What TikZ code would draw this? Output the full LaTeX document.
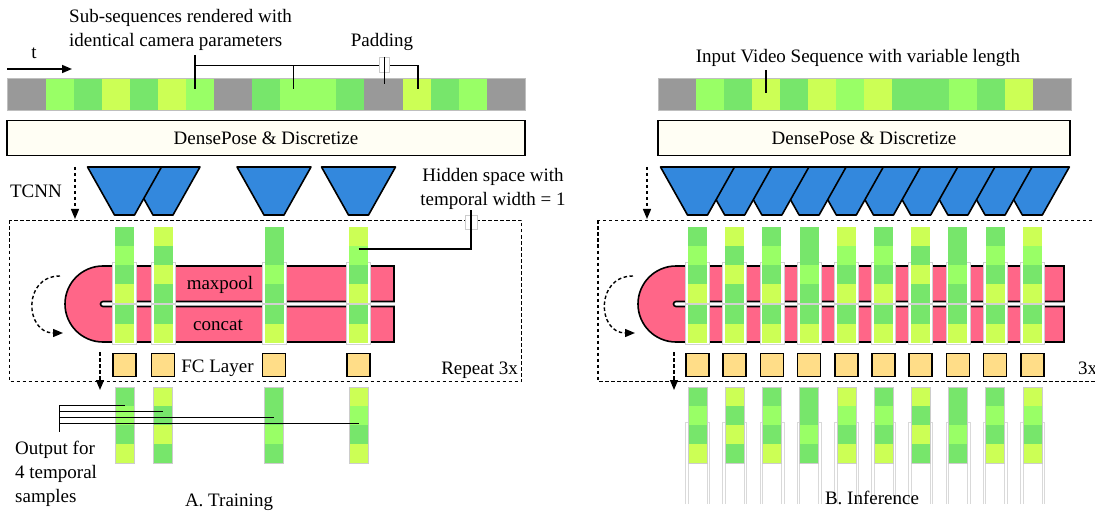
\documentclass[tikz,border=0pt]{standalone}
\usepackage{fontspec}
\setmainfont{Liberation Serif}
\usepackage{xcolor}
\usetikzlibrary{positioning,arrows.meta}

\definecolor{padgray}{HTML}{999999}
\definecolor{cl}{HTML}{99FF66}
\definecolor{cg}{HTML}{77E66B}
\definecolor{cy}{HTML}{CCFF55}
\definecolor{tcnnblue}{HTML}{3388DD}
\definecolor{poolpink}{HTML}{FF6688}
\definecolor{fcyellow}{HTML}{FFDD88}
\definecolor{dpcream}{HTML}{FFFEF4}

% U-shaped maxpool/concat block: #1 centre of the round end, #2 right end
\newcommand{\poolshape}[2]{%
  \draw[poolbar] (#2,266) -- (#1,266) arc[start angle=270, end angle=90, radius=38]
    -- (#2,342) -- (#2,306.5) -- (#1,306.5) arc[start angle=90, end angle=270, radius=2.5]
    -- (#2,301.5) -- cycle;}

% hidden feature column: #1 name, #2 centre x, #3 colours of the upper four cells
\newcommand{\hiddencol}[3]{%
  \node[halo, minimum width=24pt, minimum height=41pt] (#1-up) at (#2,283) {};
  \node[halo, minimum width=24pt, minimum height=40pt] (#1-lo) at (#2,324.5) {};
  \foreach \c [count=\i] in #3 \node[cell=\c] (#1-\i) at (#2,217.5+19*\i) {};
  \node[cell=cg] (#1-5) at (#2,314.5) {};
  \node[cell=cy] (#1-6) at (#2,333.5) {};}

% output column below the repeat block
\newcommand{\outcol}[3]{%
  \foreach \c [count=\i] in #3 \node[cell=\c] (#1-\i) at (#2,377.5+19*\i) {};
  \draw[black!20, line width=0.5pt] (#1-1.north west) rectangle (#1-4.south east);}

\begin{document}
\begin{tikzpicture}[x=1pt, y=-1pt,
    every node/.append style={inner sep=0pt, font=\fontsize{19}{24}\selectfont},
    cell/.style={fill=#1, minimum width=19pt, minimum height=19pt, outer sep=0pt},
    dpbox/.style={draw, line width=1.6pt, fill=dpcream, minimum height=35pt},
    fcbox/.style={draw, line width=1.6pt, fill=fcyellow, minimum size=23pt},
    tcnnunit/.style={draw, line width=1.6pt, fill=tcnnblue, line join=round},
    poolbar/.style={draw, line width=1.6pt, fill=poolpink},
    loopbox/.style={draw, line width=1.4pt, dash pattern=on 3.5pt off 2.5pt},
    flow/.style={line width=1.4pt, dash pattern=on 3.5pt off 2.5pt, -{Triangle[length=10pt,width=8pt]}},
    leader/.style={line width=1.6pt},
    jump/.style={fill=white, draw=black!20, line width=0.6pt},
    halo/.style={fill=white, draw=black!18, line width=0.6pt}]

\clip (0,0) rectangle (1095,513);

% ---- A. training: input sequence
\foreach \xa/\xb/\c in {7/46/padgray, 46/74/cl, 74/102/cg, 102/130/cy, 130/158/cg, 158/186/cy,
    186/214/cl, 214/252/padgray, 252/280/cg, 280/308/cl, 308/336/cl, 336/364/cg,
    364/403/padgray, 403/431/cy, 431/459/cg, 459/487/cl, 487/525/padgray}
  \fill[\c] (\xa,78) rectangle (\xb,110);
\draw[black!25, line width=0.6pt] (7,78) rectangle (525,110);

\node[anchor=base] (tlab) at (34,59) {t};
\coordinate (t0) at (7,69);
\coordinate (t1) at (72,69);
\draw[line width=1.6pt, -{Triangle[length=10pt,width=8pt]}] (t0) -- (t1);

\node[anchor=west, align=left] (sublab) at (69,30) {Sub-sequences rendered with\\identical camera parameters};
\node[anchor=base] (padlab) at (382,47) {Padding};
\coordinate (subA) at (195,55);
\coordinate (subB) at (195,89);
\coordinate (subC) at (293.5,89);
\coordinate (subD) at (418,89);
\coordinate (subbar) at (195,65.5);
\draw[leader] (subA) -- (subB);
\draw[leader] (subbar) -| (subD);
\draw[leader] (subbar -| subC) -- (subC);
\node[jump, minimum width=10pt, minimum height=15pt] (padgap) at (384,64.5) {};
\coordinate (padA) at (384.5,57);
\coordinate (padB) at (384.5,84);
\draw[leader] (padA) -- (padB);

% ---- B. inference: input sequence
\foreach \xa/\xb/\c in {658/696/padgray, 696/724/cl, 724/752/cg, 752/780/cy, 780/808/cg,
    808/836/cy, 836/864/cl, 864/892/cy, 892/949/cg, 949/977/cl, 977/1005/cg,
    1005/1033/cy, 1033/1071/padgray}
  \fill[\c] (\xa,78) rectangle (\xb,110);
\draw[black!25, line width=0.6pt] (658,78) rectangle (1071,110);
\node[anchor=base] (vidlab) at (858,63) {Input Video Sequence with variable length};
\coordinate (vidA) at (766,70);
\coordinate (vidB) at (766,93);
\draw[leader] (vidA) -- (vidB);

% ---- DensePose
\node[dpbox, minimum width=518pt] (dpL) at (266,138) {DensePose \& Discretize};
\node[dpbox, minimum width=412pt] (dpR) at (864,138) {DensePose \& Discretize};

% ---- repeat blocks
\draw[loopbox] (9.5,220.5) rectangle (521.5,381.5);
\draw[loopbox] (598,220.5) rectangle (1110,381.5);
\node[anchor=base east] (repL) at (518,374) {Repeat 3x};
\node[anchor=base west] (repR) at (1078,374) {3x};

% ---- TCNN units (right to left, so the left one lies on top)
\foreach \cx in {358.5,274,163,124.5}
  \draw[tcnnunit] (\cx-37,167) -- (\cx+37,167) -- (\cx+10,215) -- (\cx-10,215) -- cycle;
\foreach \k in {10,9,...,1}{
  \pgfmathsetmacro{\cx}{660.3+37.2*\k}
  \draw[tcnnunit] (\cx-37,167) -- (\cx+37,167) -- (\cx+10,215) -- (\cx-10,215) -- cycle;
}
\node[anchor=base] (tcnnlab) at (36,198) {TCNN};
\coordinate (inL0) at (75,167);
\coordinate (inL1) at (75,219);
\draw[flow] (inL0) -- (inL1);
\coordinate (inR0) at (647,167);
\coordinate (inR1) at (647,219);
\draw[flow] (inR0) -- (inR1);

% ---- maxpool / concat
\poolshape{103}{394}
\poolshape{676}{1064}
\node[anchor=base] (mpL) at (220,289) {maxpool};
\node[anchor=base] (ccL) at (218,330) {concat};

\coordinate (loopL0) at (60,276);
\coordinate (loopL1) at (63,333);
\draw[flow] (loopL0) to[out=180, in=180, looseness=1.7] (loopL1);
\coordinate (loopR0) at (633,276);
\coordinate (loopR1) at (635,333);
\draw[flow] (loopR0) to[out=180, in=180, looseness=1.7] (loopR1);

% ---- hidden columns, FC layers and outputs (training)
\foreach \cx/\p [count=\k] in {124.5/{cg,cl,cg,cy}, 163/{cy,cg,cy,cg}, 274/{cg,cg,cl,cg}, 358.5/{cy,cl,cg,cy}}{
  \hiddencol{hL\k}{\cx}{\p}
  \node[fcbox] (fcL\k) at (\cx,365) {};
  \outcol{oL\k}{\cx}{\p}
}
\node[anchor=base] (fclab) at (217.5,372) {FC Layer};

% ---- hidden columns, FC layers and outputs (inference)
\foreach \p [count=\k] in {{cg,cl,cg,cy},{cy,cg,cy,cg},{cg,cl,cg,cy},{cg,cg,cl,cg},{cy,cl,cg,cy},
    {cg,cl,cg,cy},{cy,cg,cy,cg},{cg,cg,cl,cg},{cg,cl,cg,cy},{cy,cl,cg,cy}}{
  \pgfmathsetmacro{\cx}{660.3+37.2*\k}
  \hiddencol{hR\k}{\cx}{\p}
  \node[fcbox] (fcR\k) at (\cx,365) {};
  \draw[black!15, line width=0.6pt] (\cx-12,504) |- (\cx+12,422) -- (\cx+12,504);
  \draw[black!15, line width=0.6pt] (\cx-9.5,463) -- (\cx-9.5,504) (\cx+9.5,463) -- (\cx+9.5,504);
  \outcol{oR\k}{\cx}{\p}
}

\coordinate (fcL0) at (100,352);
\coordinate (fcL9) at (100,390);
\draw[flow] (fcL0) -- (fcL9);
\coordinate (fcR0) at (674,352);
\coordinate (fcR99) at (674,390);
\draw[flow] (fcR0) -- (fcR99);

% ---- hidden space label
\node[align=center] (hidlab) at (493,189) {Hidden space with\\temporal width = 1};
\node[jump, minimum width=12pt, minimum height=14pt] (hidgap) at (471,222) {};
\coordinate (hidA) at (471,210);
\coordinate (hidB) at (358.5,249);
\draw[leader] (hidB) -| (hidA);

% ---- output label
\node[anchor=west, align=left] (outlab) at (15,473.5) {Output for\\4 temporal\\samples};
\coordinate (outA) at (59.5,405);
\coordinate (outB) at (59.5,432);
\draw[leader] (outA) -- (outB);
\foreach \cx/\yy [count=\i] in {125/405.7, 162.7/411.7, 274/417.7, 358.5/423.3}{
  \coordinate (o\i) at (\cx,\yy);
  \draw[line width=1.3pt] (outA |- o\i) -- (o\i);
}

\node[anchor=base] (trainlab) at (229,506) {A. Training};
\node[anchor=base] (inflab) at (872,504) {B. Inference};
\end{tikzpicture}
\end{document}
